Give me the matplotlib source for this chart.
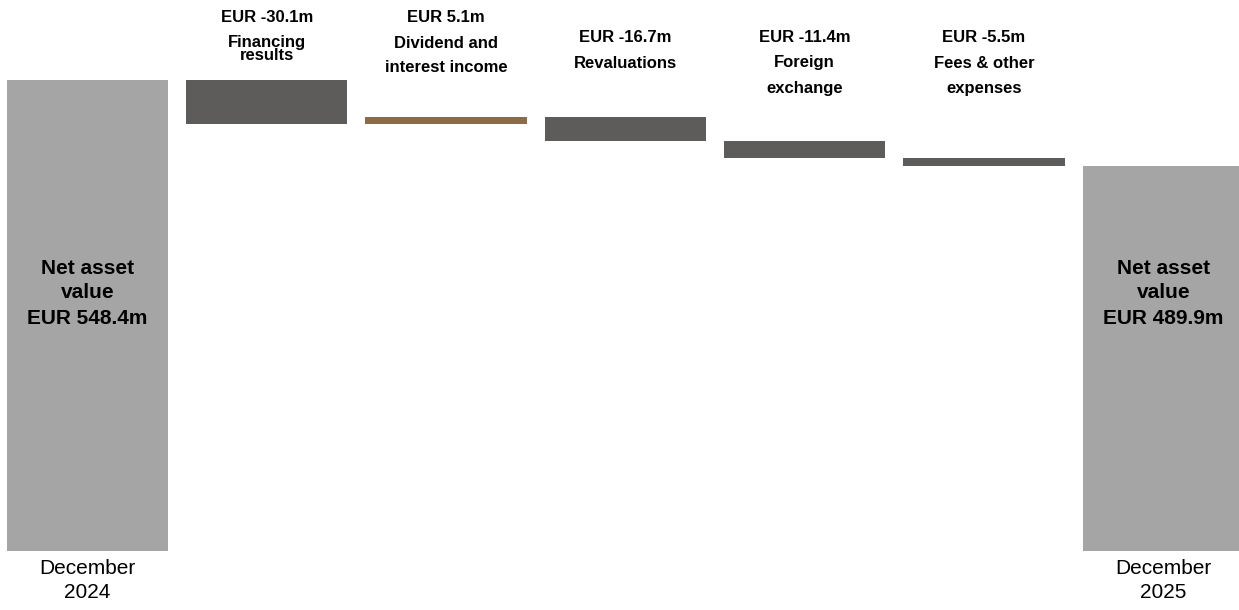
import matplotlib
matplotlib.use("Agg")
import matplotlib.pyplot as plt

# data
start_value = 548.4
end_value = 489.9
step_names = ["Financing\nresults", "Dividend and\ninterest income", "Revaluations",
              "Foreign\nexchange", "Fees & other\nexpenses"]
step_values = [-30.1, 5.1, -16.7, -11.4, -5.5]
start_label = "December\n2024"
end_label = "December\n2025"

# style
total_color = "#a5a5a5"
neg_color = "#5e5c5a"
pos_color = "#8b6b4a"
# top-label line centres in figure pixels (value line, name lines)
label_rows = [[18, 42, 55], [17, 43, 68], [38, 63], [38, 63, 88], [38, 63, 88]]

plt.rcParams["font.family"] = ["Liberation Sans", "DejaVu Sans"]

W, H = 1239, 610
fig = plt.figure(figsize=(W / 100, H / 100), dpi=100)
ax = fig.add_axes([0, (H - 551) / H, 1, 551 / H])
ax.axis("off")

ymin = 228.0
ax.set_ylim(ymin, ymin + 551 / 1.47)
ax.set_xlim(-0.488, 6.422)
width = 0.9

# totals
ax.bar(0, start_value - ymin, bottom=ymin, width=width, color=total_color)
ax.bar(len(step_values) + 1, end_value - ymin, bottom=ymin, width=width, color=total_color)

level = start_value
for i, v in enumerate(step_values):
    x = i + 1
    new = level + v
    ax.bar(x, abs(v), bottom=min(level, new), width=width,
           color=pos_color if v > 0 else neg_color)
    lines = [f"EUR {v:.1f}m"] + step_names[i].split("\n")
    for txt, ypix in zip(lines, label_rows[i]):
        ax.annotate(txt, xy=(x, 1 - ypix / H), xycoords=("data", "figure fraction"),
                    ha="center", va="center", fontsize=12, fontweight="bold")
    level = new

# text inside total bars
for x, val in [(0, start_value), (len(step_values) + 1, end_value)]:
    for txt, ypix in zip(["Net asset", "value", f"EUR {val:.1f}m"], [268, 293, 318]):
        ax.annotate(txt, xy=(x, 1 - ypix / H), xycoords=("data", "figure fraction"),
                    ha="center", va="center", fontsize=15, fontweight="bold")

for x, lab in [(0, start_label), (len(step_values) + 1, end_label)]:
    for txt, ypix in zip(lab.split("\n"), [568, 593]):
        ax.annotate(txt, xy=(x, 1 - ypix / H), xycoords=("data", "figure fraction"),
                    ha="center", va="center", fontsize=15)

fig.savefig("out.png", dpi=100)
